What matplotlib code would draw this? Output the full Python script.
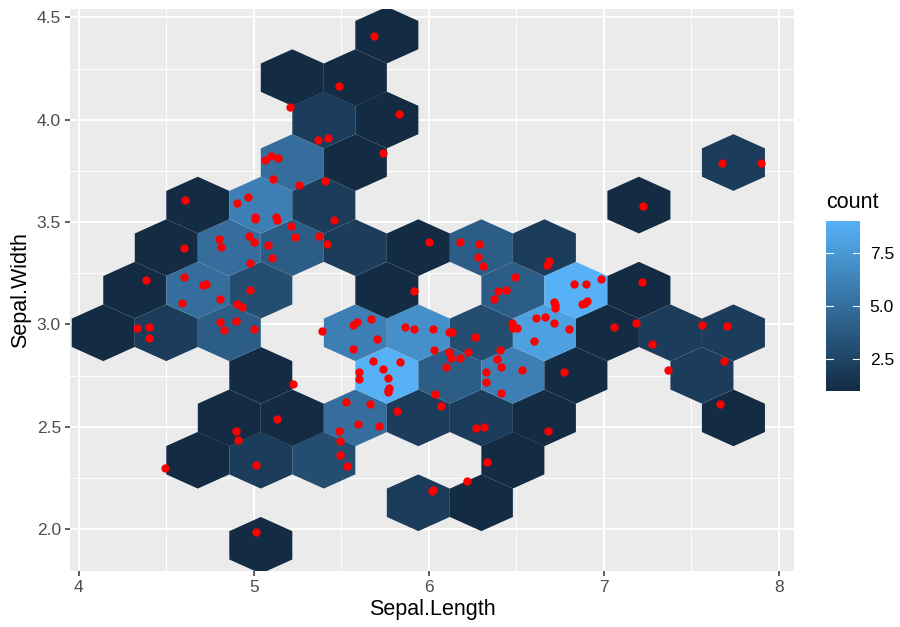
import numpy as np
import matplotlib.pyplot as plt
from matplotlib.collections import PolyCollection
from matplotlib.colors import LinearSegmentedColormap, Normalize
from matplotlib.cm import ScalarMappable

plt.rcParams['font.family'] = ['Liberation Sans', 'DejaVu Sans']

# hex bin centres and counts
hex_x = [5.04, 5.94, 6.30, 4.68, 5.04, 5.40, 6.48, 4.86, 5.22, 5.58, 5.94, 6.30, 6.66, 7.74,
         5.04, 5.76, 6.12, 6.48, 6.84, 7.56, 4.14, 4.50, 4.86, 5.58, 5.94, 6.30, 6.66, 7.02,
         7.38, 7.74, 4.32, 4.68, 5.04, 5.76, 6.48, 6.84, 7.20, 4.50, 4.86, 5.22, 5.58, 5.94,
         6.30, 6.66, 4.68, 5.04, 5.40, 7.20, 5.22, 5.58, 7.74, 5.40, 5.76, 5.22, 5.58, 5.76]
hex_y = [1.920, 2.128, 2.128, 2.336, 2.336, 2.336, 2.336, 2.543, 2.543, 2.543, 2.543, 2.543, 2.543, 2.543,
         2.751, 2.751, 2.751, 2.751, 2.751, 2.751, 2.959, 2.959, 2.959, 2.959, 2.959, 2.959, 2.959, 2.959,
         2.959, 2.959, 3.167, 3.167, 3.167, 3.167, 3.167, 3.167, 3.167, 3.375, 3.375, 3.375, 3.375, 3.375,
         3.375, 3.375, 3.583, 3.583, 3.583, 3.583, 3.791, 3.791, 3.791, 3.999, 3.999, 4.206, 4.206, 4.414]
hex_n = [1, 2, 1, 1, 2, 3, 1, 1, 1, 5, 2, 2, 1, 1,
         1, 9, 4, 6, 1, 2, 1, 2, 4, 6, 7, 3, 8, 1,
         2, 2, 1, 5, 3, 1, 4, 9, 1, 1, 5, 4, 2, 1,
         4, 2, 1, 6, 2, 1, 5, 1, 2, 2, 1, 1, 1, 1]

# jittered points
pt_x = [5.208, 5.062, 5.100, 5.140, 5.111, 5.260, 5.688, 5.488, 5.827, 5.368, 5.425, 5.740, 5.408,
        7.676, 7.895,
        4.609, 4.965, 4.904, 5.005, 5.007, 5.125, 5.132, 5.214, 5.235, 4.803, 4.814, 4.973, 4.999,
        5.083, 5.104, 4.980, 4.600, 4.384, 4.601, 4.708, 4.729, 4.980, 4.809, 4.588, 4.904, 4.931,
        4.333, 4.401, 4.403, 4.809, 4.832, 4.900, 4.999,
        5.460, 5.371, 5.420, 5.999, 6.176, 6.284, 6.279, 6.309, 6.494, 6.439, 6.393, 6.372, 6.688,
        6.675, 5.917, 5.391, 5.588, 5.568, 5.669, 5.705, 5.568, 5.862, 5.917, 6.025, 6.117, 6.134,
        6.262, 6.473, 6.479, 6.501, 6.613, 6.665, 6.598, 6.031, 6.115, 6.125, 6.178, 6.223, 6.406,
        6.391, 6.412, 6.098, 6.324, 6.530, 5.682, 5.736, 5.835, 5.601,
        7.225, 6.830, 6.899, 6.983, 7.217, 6.714, 6.722, 6.718, 6.901, 6.873, 6.891, 6.716, 6.802,
        7.059, 7.183, 7.276, 7.561, 7.706, 7.687, 7.369, 6.772,
        5.222, 5.131, 4.897, 4.911, 5.011, 4.491, 5.013,
        5.599, 5.765, 5.770, 5.768, 5.767, 6.037, 6.071, 6.324, 6.412, 6.269, 6.316, 6.678, 6.334,
        6.216, 6.018, 6.022, 5.525, 5.662, 5.818, 5.597, 5.717, 5.488, 5.494, 5.494, 5.530,
        7.661]
pt_y = [4.064, 3.802, 3.822, 3.812, 3.711, 3.681, 4.411, 4.164, 4.030, 3.903, 3.911, 3.836, 3.699,
        3.787, 3.787,
        3.608, 3.623, 3.592, 3.526, 3.514, 3.526, 3.509, 3.479, 3.427, 3.419, 3.378, 3.432, 3.404,
        3.387, 3.326, 3.300, 3.372, 3.219, 3.232, 3.191, 3.196, 3.168, 3.123, 3.105, 3.098, 3.085,
        2.982, 2.987, 2.935, 3.012, 2.973, 3.018, 2.976,
        3.510, 3.432, 3.393, 3.401, 3.404, 3.394, 3.331, 3.285, 3.233, 3.167, 3.162, 3.124, 3.311,
        3.289, 3.162, 2.968, 3.010, 2.996, 3.028, 2.930, 2.878, 2.989, 2.979, 2.976, 2.963, 2.963,
        2.938, 3.008, 2.984, 2.982, 3.033, 3.035, 2.919, 2.873, 2.866, 2.834, 2.834, 2.865, 2.875,
        2.829, 2.790, 2.790, 2.767, 2.777, 2.821, 2.782, 2.816, 2.769,
        3.580, 3.197, 3.197, 3.220, 3.207, 3.108, 3.082, 3.095, 3.116, 3.101, 3.103, 3.008, 2.979,
        2.987, 3.005, 2.904, 2.997, 2.991, 2.823, 2.779, 2.767,
        2.710, 2.536, 2.478, 2.436, 2.311, 2.300, 1.984,
        2.733, 2.738, 2.688, 2.668, 2.678, 2.661, 2.600, 2.720, 2.663, 2.495, 2.500, 2.479, 2.327,
        2.233, 2.186, 2.190, 2.619, 2.612, 2.578, 2.513, 2.503, 2.480, 2.430, 2.362, 2.309,
        2.609]

bw_x, bw_y = 0.36, 0.24

fig = plt.figure(figsize=(9, 6.27), dpi=100)
ax = fig.add_axes([70/900, 1 - 570.7/627, 724/900, 561.7/627])
ax.set_facecolor('#EBEBEB')

dx = bw_x / 2
dy = bw_y / np.sqrt(3) / 2
hexagon = np.array([[dx, dy], [0, 2*dy], [-dx, dy], [-dx, -dy], [0, -2*dy], [dx, -dy]])
verts = [hexagon + (x, y) for x, y in zip(hex_x, hex_y)]

cmap = LinearSegmentedColormap.from_list('gg', ['#132B43', '#56B1F7'])
norm = Normalize(min(hex_n), max(hex_n))
pc = PolyCollection(verts, array=np.array(hex_n), cmap=cmap, norm=norm,
                    edgecolors='none', linewidths=0, zorder=2)
ax.add_collection(pc)

ax.scatter(pt_x, pt_y, s=36, c='red', linewidths=0, zorder=3)

ax.set_xlim(3.950, 8.086)
ax.set_ylim(1.796, 4.5415)
ax.set_xticks([4, 5, 6, 7, 8])
ax.set_xticks([4.5, 5.5, 6.5, 7.5], minor=True)
ax.set_yticks([2.0, 2.5, 3.0, 3.5, 4.0, 4.5])
ax.set_yticklabels(['2.0', '2.5', '3.0', '3.5', '4.0', '4.5'])
ax.set_yticks([2.25, 2.75, 3.25, 3.75, 4.25], minor=True)
ax.grid(which='major', color='white', lw=1.4)
ax.grid(which='minor', color='white', lw=0.7)
ax.set_axisbelow(True)
for s in ax.spines.values():
    s.set_visible(False)
ax.tick_params(which='major', length=3.5, width=1.1, color='#333333',
               labelsize=12.5, labelcolor='#4D4D4D', pad=3)
ax.tick_params(which='minor', length=0)
ax.set_xlabel('Sepal.Length', fontsize=15.5, labelpad=3)
ax.set_ylabel('Sepal.Width', fontsize=15.5, labelpad=4)

# legend
cax = fig.add_axes([826/900, 1 - 390.7/627, 34/900, 169.7/627])
cb = fig.colorbar(ScalarMappable(norm=norm, cmap=cmap), cax=cax)
cb.outline.set_visible(False)
cb.set_ticks([2.5, 5.0, 7.5])
cb.set_ticklabels(['2.5', '5.0', '7.5'])
cax.tick_params(length=0, labelsize=12.5, pad=7)
for v in [2.5, 5.0, 7.5]:
    cax.plot([0, 0.2], [v, v], color='white', lw=0.8, transform=cax.get_yaxis_transform())
    cax.plot([0.8, 1], [v, v], color='white', lw=0.8, transform=cax.get_yaxis_transform())
fig.text(826/900, 1 - 202/627, 'count', fontsize=15.5, va='center', ha='left')

fig.savefig('out.png', dpi=100)
